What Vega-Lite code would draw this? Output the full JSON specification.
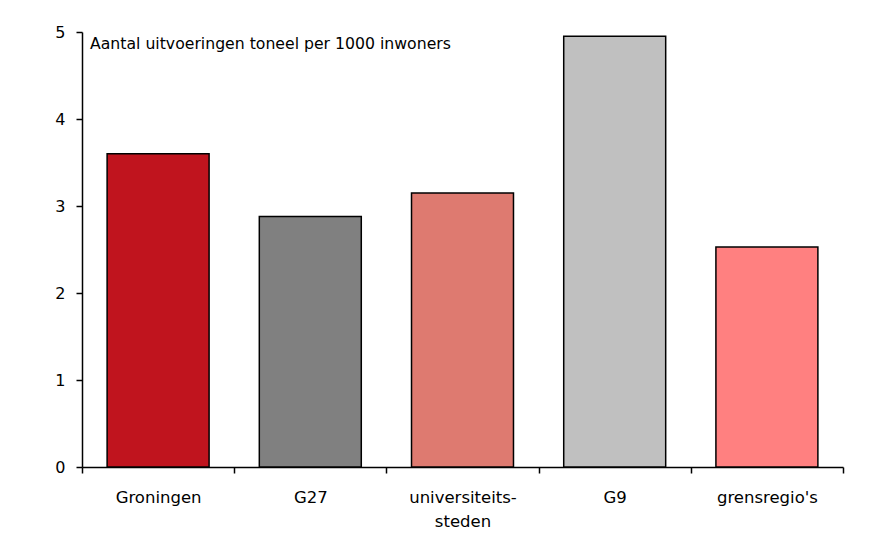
{
  "$schema": "https://vega.github.io/schema/vega-lite/v6.json",
  "width": 761,
  "height": 435,
  "autosize": {"type": "none"},
  "padding": {"left": 82, "top": 32, "right": 28, "bottom": 70},
  "background": "white",
  "config": {"view": {"stroke": null}, "font": "DejaVu Sans"},
  "title": {
    "text": "Aantal uitvoeringen toneel per 1000 inwoners",
    "anchor": "start",
    "frame": "group",
    "orient": "top",
    "baseline": "middle",
    "dx": 8,
    "dy": 36,
    "offset": 0,
    "font": "DejaVu Sans",
    "fontSize": 15.7,
    "fontWeight": "normal",
    "color": "black"
  },
  "data": {
    "values": [
      {"regio": "Groningen", "waarde": 3.6},
      {"regio": "G27", "waarde": 2.88},
      {"regio": "universiteits-steden", "waarde": 3.15},
      {"regio": "G9", "waarde": 4.95},
      {"regio": "grensregio's", "waarde": 2.53}
    ]
  },
  "mark": {"type": "bar", "stroke": "black", "strokeWidth": 1.5, "width": {"band": 0.67}},
  "encoding": {
    "x": {
      "field": "regio",
      "type": "nominal",
      "sort": null,
      "scale": {"paddingInner": 0, "paddingOuter": 0},
      "axis": {
        "title": null,
        "labelAngle": 0,
        "ticks": true,
        "tickBand": "extent",
        "domainColor": "black",
        "domainWidth": 1.5,
        "tickColor": "black",
        "tickWidth": 1.5,
        "tickSize": 6,
        "labelPadding": 16,
        "labelFontSize": 16.5,
        "labelColor": "black",
        "labelFont": "DejaVu Sans",
        "labelLineHeight": 24,
        "labelExpr": "datum.label == 'universiteits-steden' ? ['universiteits-', 'steden'] : datum.label"
      }
    },
    "y": {
      "field": "waarde",
      "type": "quantitative",
      "scale": {"domain": [0, 5], "nice": false},
      "axis": {
        "title": null,
        "values": [0, 1, 2, 3, 4, 5],
        "grid": false,
        "domainColor": "black",
        "domainWidth": 1.5,
        "tickColor": "black",
        "tickWidth": 1.5,
        "tickSize": 6,
        "labelPadding": 11,
        "labelFontSize": 16,
        "labelColor": "black",
        "labelFont": "DejaVu Sans"
      }
    },
    "color": {
      "field": "regio",
      "type": "nominal",
      "sort": null,
      "legend": null,
      "scale": {
        "domain": ["Groningen", "G27", "universiteits-steden", "G9", "grensregio's"],
        "range": ["#C0141E", "#808080", "#DE7A70", "#C0C0C0", "#FF8080"]
      }
    }
  }
}
